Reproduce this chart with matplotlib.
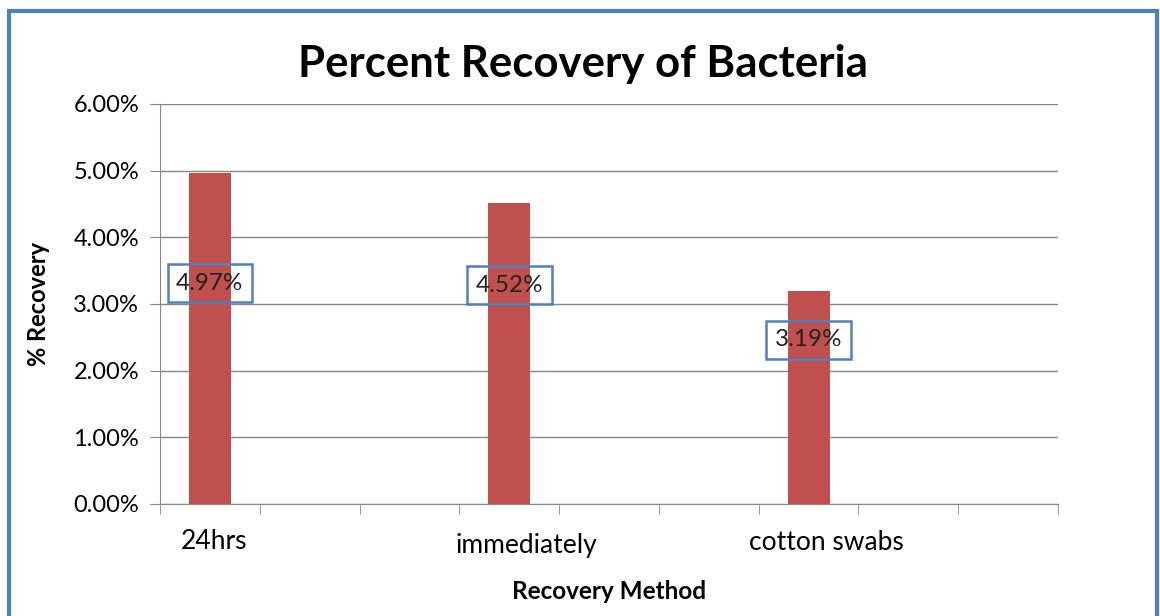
import matplotlib
matplotlib.use("Agg")
import matplotlib.pyplot as plt
import matplotlib.transforms as mtransforms
from matplotlib.patches import Rectangle
from matplotlib.ticker import FuncFormatter, MultipleLocator

# chart values (fractions) for the nine category slots; only three carry data
CATEGORIES = ["24hrs", "", "", "immediately", "", "", "cotton swabs", "", ""]
BAR_SLOTS = [0, 3, 6]
RECOVERY = [0.0497, 0.0452, 0.0319]
LABELS = ["4.97%", "4.52%", "3.19%"]

# where the data-label boxes sit (moved by hand in the original)
LABEL_Y = [0.03315, 0.03285, 0.0246]
# small nudges (points) of the category labels, as in the original
TICK_SHIFT = {"24hrs": (3, 2), "immediately": (12, -1), "cotton swabs": (13, 1)}

BAR_COLOR = "#C0504D"
GRID = "#868686"
FRAME = "#4F81BD"

plt.rcParams["font.family"] = ["Lato", "DejaVu Sans"]

fig = plt.figure(figsize=(11.6, 6.16), dpi=100)
ax = fig.add_axes([160 / 1160, 112 / 616, 898 / 1160, 400 / 616])

ax.bar(BAR_SLOTS, RECOVERY, width=0.42, color=BAR_COLOR, zorder=3)
for x, y, s in zip(BAR_SLOTS, LABEL_Y, LABELS):
    ax.text(x, y, s, ha="center", va="center", fontsize=17.5, color="#222222", zorder=4,
            bbox=dict(boxstyle="square,pad=0.35", fc="none", ec=FRAME, lw=1.8))

ax.set_xlim(-0.5, len(CATEGORIES) - 0.5)
ax.set_ylim(0, 0.06)
ax.yaxis.set_major_locator(MultipleLocator(0.01))
ax.yaxis.set_major_formatter(FuncFormatter(lambda v, _: f"{v * 100:.2f}%"))
ax.grid(axis="y", color=GRID, lw=1.0, zorder=0)

ax.set_xticks(range(len(CATEGORIES)))
ax.set_xticklabels(CATEGORIES, fontsize=19)
ax.set_xticks([i - 0.5 for i in range(len(CATEGORIES) + 1)], minor=True)
ax.tick_params(axis="x", which="major", length=0, pad=20)
ax.tick_params(axis="x", which="minor", length=7, color=GRID, direction="out")
ax.tick_params(axis="y", length=7, color=GRID, labelsize=17, pad=8)
for lbl in ax.get_xticklabels():
    dx, dy = TICK_SHIFT.get(lbl.get_text(), (0, 0))
    lbl.set_transform(lbl.get_transform()
                      + mtransforms.ScaledTranslation(dx / 72, dy / 72, fig.dpi_scale_trans))

for side in ("top", "right"):
    ax.spines[side].set_visible(False)
for side in ("left", "bottom"):
    ax.spines[side].set_color(GRID)

ax.set_xlabel("Recovery Method", fontsize=17.5, fontweight="bold", labelpad=16)
ax.set_ylabel("% Recovery", fontsize=17, fontweight="bold", labelpad=17)

fig.text(583 / 1160, 1 - 64 / 616, "Percent Recovery of Bacteria", ha="center", va="center",
         fontsize=31.5, fontweight="bold")

fig.patches.append(Rectangle((9 / 1160, -0.05), 1148 / 1160, 1.05 - 11 / 616,
                             transform=fig.transFigure, fill=False, ec=FRAME, lw=3))

fig.savefig("out.png", dpi=100)
